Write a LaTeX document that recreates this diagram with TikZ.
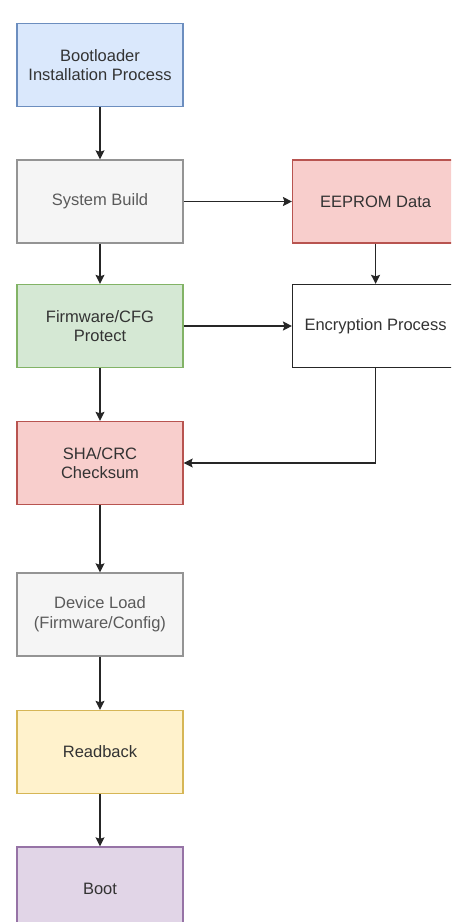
\documentclass[tikz,border=0pt]{standalone}
\usepackage{fontspec}
\setmainfont{Liberation Sans}
\usetikzlibrary{arrows.meta}
\definecolor{blueF}{HTML}{DAE8FC}\definecolor{blueD}{HTML}{6C8EBF}
\definecolor{grayF}{HTML}{F5F5F5}\definecolor{grayD}{HTML}{666666}
\definecolor{redF}{HTML}{F8CECC}\definecolor{redD}{HTML}{B85450}
\definecolor{greenF}{HTML}{D5E8D4}\definecolor{greenD}{HTML}{82B366}
\definecolor{yelF}{HTML}{FFF2CC}\definecolor{yelD}{HTML}{D6B656}
\definecolor{purF}{HTML}{E1D5E7}\definecolor{purD}{HTML}{9673A6}
\definecolor{txt}{HTML}{333333}
\definecolor{txtG}{HTML}{5A5A5A}
\begin{document}
\begin{tikzpicture}[x=1pt,y=-1pt,
  box/.style={draw, line width=1.3pt, minimum width=166pt, minimum height=83pt,
    inner sep=0pt, align=center, text=txt, font=\fontsize{16.5}{19.8}\selectfont},
  bluebox/.style={box, fill=blueF, draw=blueD},
  graybox/.style={box, fill=grayF, draw=grayD!70, text=txtG},
  redbox/.style={box, fill=redF, draw=redD},
  greenbox/.style={box, fill=greenF, draw=greenD},
  yelbox/.style={box, fill=yelF, draw=yelD},
  purbox/.style={box, fill=purF, draw=purD},
  whitebox/.style={box, fill=white, draw=black!85},
  conn/.style={draw=black!85, line width=1.3pt, -{Stealth[length=9pt,width=9pt,inset=1.5pt]}}
]
\clip (0,0) rectangle (451,922);
\node[bluebox]  (boot1) at (100,65)    {Bootloader\\Installation Process};
\node[graybox]  (sys)   at (100,201.5) {System Build};
\node[redbox]   (eep)   at (375.6,201.5) {EEPROM Data};
\node[greenbox] (fw)    at (100,326)   {Firmware/CFG\\Protect};
\node[whitebox] (enc)   at (375.6,326) {Encryption Process};
\node[redbox]   (sha)   at (100,463)   {SHA/CRC\\Checksum};
\node[graybox]  (dev)   at (100,614.5) {Device Load\\(Firmware/Config)};
\node[yelbox]   (rb)    at (100,752)   {Readback};
\node[purbox]   (boot)  at (100,888.5) {Boot};
\draw[conn] (boot1) -- (sys);
\draw[conn] (sys) -- (fw);
\draw[conn] (sys) -- (eep);
\draw[conn] (eep) -- (enc);
\draw[conn] (fw) -- (enc);
\draw[conn] (fw) -- (sha);
\draw[conn] (enc.south) |- (sha.east);
\draw[conn] (sha) -- (dev);
\draw[conn] (dev) -- (rb);
\draw[conn] (rb) -- (boot);
\end{tikzpicture}
\end{document}
